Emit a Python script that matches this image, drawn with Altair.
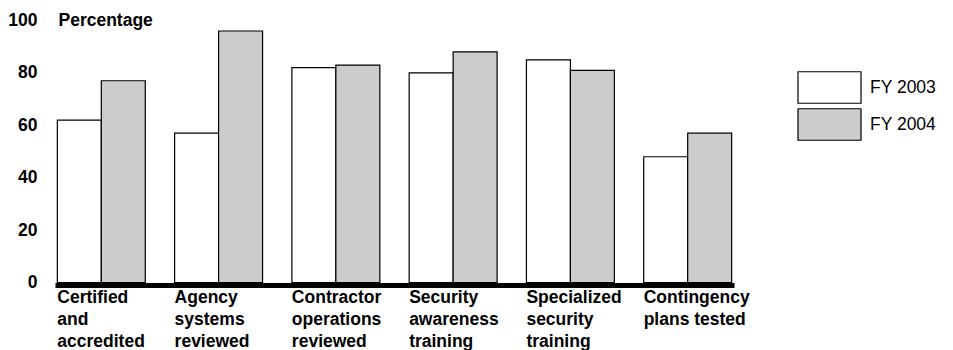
import altair as alt
import pandas as pd

categories = [
    "Certified|and|accredited",
    "Agency|systems|reviewed",
    "Contractor|operations|reviewed",
    "Security|awareness|training",
    "Specialized|security|training",
    "Contingency|plans tested",
]
series = ["FY 2003", "FY 2004"]
fy2003 = [62, 57, 82, 80, 85, 48]
fy2004 = [77, 96, 83, 88, 81, 57]
y_ticks = [0, 20, 40, 60, 80, 100]

rows = []
for c, a, b in zip(categories, fy2003, fy2004):
    rows.append({"category": c, "series": series[0], "value": a})
    rows.append({"category": c, "series": series[1], "value": b})
df = pd.DataFrame(rows)

FONT = "Liberation Sans"

chart = (
    alt.Chart(df)
    .mark_bar(stroke="black", strokeWidth=1.2)
    .encode(
        x=alt.X(
            "category:N",
            sort=categories,
            scale=alt.Scale(paddingInner=0.25, paddingOuter=0.02),
            axis=alt.Axis(
                title=None,
                labelAngle=0,
                labelAlign="left",
                labelBaseline="top",
                labelOffset=-44,
                labelExpr="split(datum.label, '|')",
                labelFont=FONT,
                labelFontSize=17.5,
                labelFontWeight="bold",
                labelColor="black",
                labelLineHeight=22,
                labelPadding=3,
                labelOverlap=False,
                labelBound=False,
                labelFlush=False,
                labelLimit=0,
                domainColor="black",
                domainWidth=5,
                ticks=False,
                tickSize=0,
                offset=2.5,
                grid=False,
            ),
        ),
        xOffset=alt.XOffset(
            "series:N", sort=series, scale=alt.Scale(paddingInner=0, paddingOuter=0)
        ),
        y=alt.Y(
            "value:Q",
            scale=alt.Scale(domain=[0, 100], nice=False),
            axis=alt.Axis(
                values=y_ticks,
                title="Percentage",
                titleAngle=0,
                titleAlign="left",
                titleBaseline="middle",
                titleX=3,
                titleY=0,
                titleFont=FONT,
                titleFontSize=17.5,
                titleFontWeight="bold",
                titleColor="black",
                labelFont=FONT,
                labelFontSize=17.5,
                labelFontWeight="bold",
                labelColor="black",
                labelPadding=18,
                domain=False,
                ticks=False,
                tickSize=0,
                grid=False,
            ),
        ),
        color=alt.Color(
            "series:N",
            sort=series,
            scale=alt.Scale(domain=series, range=["white", "#cccccc"]),
            legend=alt.Legend(
                title=None,
                orient="none",
                legendX=758,
                legendY=50.5,
                symbolType="M-2,-1H2V1H-2Z",
                symbolSize=992,
                symbolStrokeColor="black",
                symbolStrokeWidth=1.2,
                symbolOpacity=1,
                labelFont=FONT,
                labelFontSize=17.5,
                labelColor="black",
                labelOffset=24,
                rowPadding=0,
            ),
        ),
    )
    .properties(
        width=679,
        height=262,
        autosize="none",
        padding={"left": 55, "top": 20.5, "right": 219, "bottom": 67.5},
    )
    .configure_view(stroke=None)
)

chart.save("out.html", embed_options={"renderer": "svg", "actions": False})
